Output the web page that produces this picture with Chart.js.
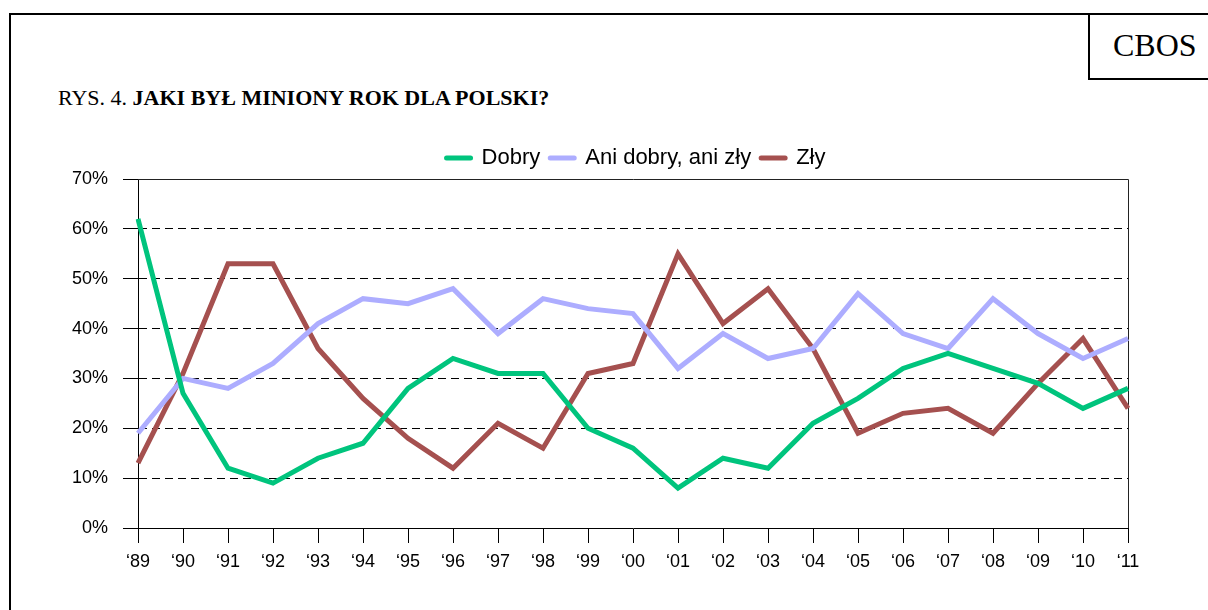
<!DOCTYPE html>
<html>
<head>
<meta charset="utf-8">
<script src="https://cdn.jsdelivr.net/npm/chart.js"></script>
<style>
  html, body { margin: 0; padding: 0; background: #fff; overflow: hidden; }
  body { width: 1208px; height: 610px; position: relative; }
  .frame { position: absolute; left: 9px; top: 13px; width: 1400px; height: 800px; border: 2px solid #000; }
  .logo { position: absolute; left: 1088px; top: 13px; width: 300px; height: 63px; border: 2px solid #000; }
  .logo span { position: absolute; left: 23px; top: 15px; font: 32px "Liberation Serif", "Times New Roman", serif; color: #000; line-height: 31px; }
  .title { position: absolute; left: 58px; top: 87px; font: 22px "Liberation Serif", "Times New Roman", serif; line-height: 21px; color: #000; white-space: nowrap; }
  .title b { font-weight: bold; }
  .wrap { position: absolute; left: 0; top: 126px; width: 1208px; height: 484px; }
</style>
</head>
<body>
<div class="frame"></div>
<div class="logo"><span>CBOS</span></div>
<div class="title">RYS. 4. <b>JAKI BYŁ MINIONY ROK DLA POLSKI?</b></div>
<div class="wrap"><canvas id="chart"></canvas></div>
<script>
const years = ['‘89', '‘90', '‘91', '‘92', '‘93', '‘94', '‘95', '‘96', '‘97', '‘98', '‘99', '‘00',
               '‘01', '‘02', '‘03', '‘04', '‘05', '‘06', '‘07', '‘08', '‘09', '‘10', '‘11'];
const dobry = [62, 27, 12, 9, 14, 17, 28, 34, 31, 31, 20, 16, 8, 14, 12, 21, 26, 32, 35, 32, 29, 24, 28];
const aniDobryAniZly = [19, 30, 28, 33, 41, 46, 45, 48, 39, 46, 44, 43, 32, 39, 34, 36, 47, 39, 36, 46, 39, 34, 38];
const zly = [13, 31, 53, 53, 36, 26, 18, 12, 21, 16, 31, 33, 55, 41, 48, 36, 19, 23, 24, 19, 29, 38, 24];
const yTicks = [0, 10, 20, 30, 40, 50, 60, 70];

const font = 'Liberation Sans, Arial, sans-serif';

function series(label, data, color) {
    return {
        label,
        data,
        borderColor: color,
        backgroundColor: color,
        borderWidth: 5,
        pointRadius: 0,
        pointHoverRadius: 0,
        pointStyle: 'line',
        tension: 0,
        fill: false
    };
}

// solid frame on top and right of the plot area
const plotBox = {
    id: 'plotBox',
    beforeDatasetsDraw(chart) {
        const a = chart.chartArea;
        const ctx = chart.ctx;
        ctx.save();
        ctx.strokeStyle = '#222';
        ctx.lineWidth = 1;
        ctx.beginPath();
        ctx.moveTo(a.left, a.top + 0.5);
        ctx.lineTo(a.right + 0.5, a.top + 0.5);
        ctx.lineTo(a.right + 0.5, a.bottom);
        ctx.stroke();
        ctx.restore();
    }
};

// nudge the legend to where it sits in the original
const legendShift = {
    id: 'legendShift',
    afterLayout(chart) {
        const lg = chart.legend;
        lg.left += 72; lg.right += 72;
    }
};

new Chart(document.getElementById('chart'), {
    type: 'line',
    data: {
        labels: years,
        datasets: [
            series('Dobry', dobry, '#00C47D'),
            series('Ani dobry, ani zły', aniDobryAniZly, '#ADADFF'),
            series('Zły', zly, '#A5504F')
        ]
    },
    options: {
        responsive: true,
        maintainAspectRatio: false,
        animation: false,
        layout: { padding: { left: 0, right: 80, top: 11, bottom: 0 } },
        plugins: {
            tooltip: { enabled: false },
            legend: {
                position: 'top',
                labels: {
                    color: '#000',
                    font: { family: font, size: 22 },
                    padding: 10,
                    usePointStyle: true,
                    pointStyleWidth: 24,
                    generateLabels(chart) {
                        const items = Chart.defaults.plugins.legend.labels.generateLabels(chart);
                        items.forEach(it => { it.lineCap = 'round'; it.lineWidth = 5; });
                        return items;
                    }
                }
            }
        },
        scales: {
            x: {
                afterFit(scale) { scale.height = 82; },
                grid: {
                    drawOnChartArea: false,
                    drawTicks: true,
                    tickLength: 15,
                    tickColor: '#000'
                },
                border: { color: '#000', width: 1 },
                ticks: {
                    color: '#000',
                    font: { family: font, size: 18 },
                    padding: 8,
                    autoSkip: false,
                    maxRotation: 0
                }
            },
            y: {
                min: 0,
                max: 70,
                afterFit(scale) { scale.width = 138; },
                afterBuildTicks(scale) { scale.ticks = yTicks.map(v => ({ value: v })); },
                grid: {
                    color: ctx => (ctx.tick && (ctx.tick.value === 0 || ctx.tick.value === 70)) ? 'rgba(0,0,0,0)' : '#000',
                    lineWidth: 1,
                    tickLength: 15,
                    tickColor: '#000'
                },
                border: { color: '#000', width: 1, dash: [8, 5] },
                ticks: {
                    color: '#000',
                    font: { family: font, size: 18 },
                    padding: 15,
                    callback: v => v + '%'
                }
            }
        }
    },
    plugins: [plotBox, legendShift]
});
</script>
</body>
</html>
